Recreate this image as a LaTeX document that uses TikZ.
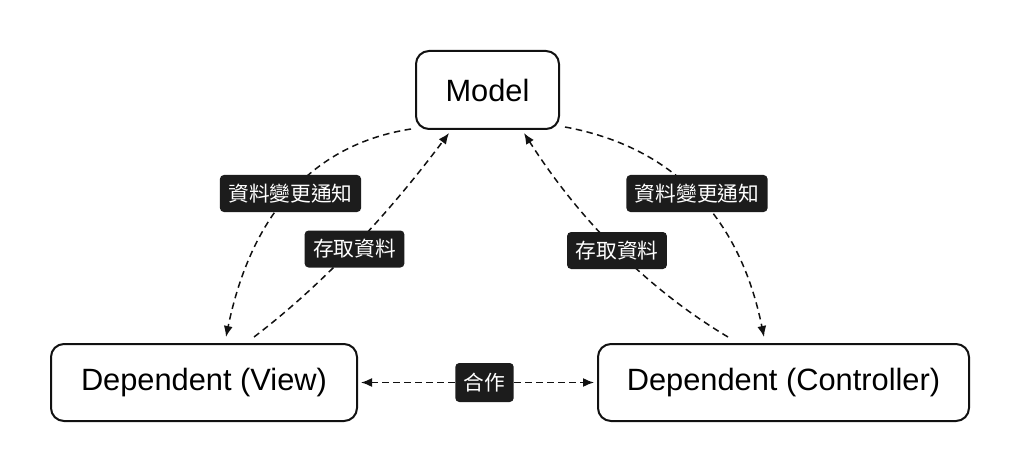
\documentclass[tikz,border=0pt]{standalone}
\usepackage{fontspec}
\setmainfont{Liberation Sans}
\newfontfamily\cjk{Noto Sans CJK TC}
\usetikzlibrary{arrows.meta,calc}
\definecolor{tagblack}{HTML}{1C1C1C}
\definecolor{edge}{HTML}{111111}
\begin{document}
\begin{tikzpicture}[x=1pt,y=-1pt,
  box/.style={draw=edge,line width=2pt,rounded corners=13pt,fill=white,inner sep=0pt,
    font=\fontsize{30.8}{36}\selectfont},
  tag/.style={fill=tagblack,rounded corners=4pt,text=white,inner xsep=8.5pt,inner ysep=0pt,
    minimum height=37pt,font=\cjk\fontsize{20.7}{24}\selectfont},
  conn/.style={draw=edge,line width=1.5pt,dash pattern=on 6.5pt off 4.5pt},
  tip/.style={-{Latex[length=11pt,width=9pt]}},
  tips/.style={{Latex[length=11pt,width=9pt]}-{Latex[length=11pt,width=9pt]}}]
\useasboundingbox[fill=white] (0,0) rectangle (1024,473);
\node[box,minimum width=143pt,minimum height=78pt] (model) at (487.5,90) {Model};
\node[box,minimum width=306pt,minimum height=77pt] (view) at (204,382.5) {Dependent (View)};
\node[box,minimum width=371pt,minimum height=77pt] (ctrl) at (783.5,382.5) {Dependent (Controller)};
% connector end points
\coordinate (s1) at ([shift={(-4,-1)}]model.south west);
\coordinate (e1) at ([shift={(22,-6)}]view.north);
\coordinate (c1) at (264,152);
\coordinate (s2) at ([shift={(50,-6)}]view.north);
\coordinate (e2) at ([shift={(-38.5,3)}]model.south);
\coordinate (c2) at (352.5,262);
\coordinate (s3) at ([shift={(-55.5,-6)}]ctrl.north);
\coordinate (e3) at ([shift={(36.5,3)}]model.south);
\coordinate (c3) at (609,266);
\coordinate (s4) at ([shift={(5,-3)}]model.south east);
\coordinate (e4) at ([shift={(-19.5,-6)}]ctrl.north);
\coordinate (c4) at (727.5,157);
\draw[conn,tip] (s1) .. controls ($(s1)!0.6667!(c1)$) and ($(e1)!0.6667!(c1)$) .. (e1);
\draw[conn,tip] (s2) .. controls ($(s2)!0.6667!(c2)$) and ($(e2)!0.6667!(c2)$) .. (e2);
\draw[conn,tip] (s3) .. controls ($(s3)!0.6667!(c3)$) and ($(e3)!0.6667!(c3)$) .. (e3);
\draw[conn,tip] (s4) .. controls ($(s4)!0.6667!(c4)$) and ($(e4)!0.6667!(c4)$) .. (e4);
\draw[conn,tips,shorten <=3pt,shorten >=3pt] (view.east) -- (ctrl.west);
% labels
\node[tag] (t1) at (290.5,193.5) {資料變更通知};
\node[tag] (t2) at (354.5,249) {存取資料};
\node[tag] (t3) at (617,250.5) {存取資料};
\node[tag] (t4) at (697,193.5) {資料變更通知};
\node[tag,minimum height=39pt] (t5) at (484.5,382.5) {合作};
\end{tikzpicture}
\end{document}
